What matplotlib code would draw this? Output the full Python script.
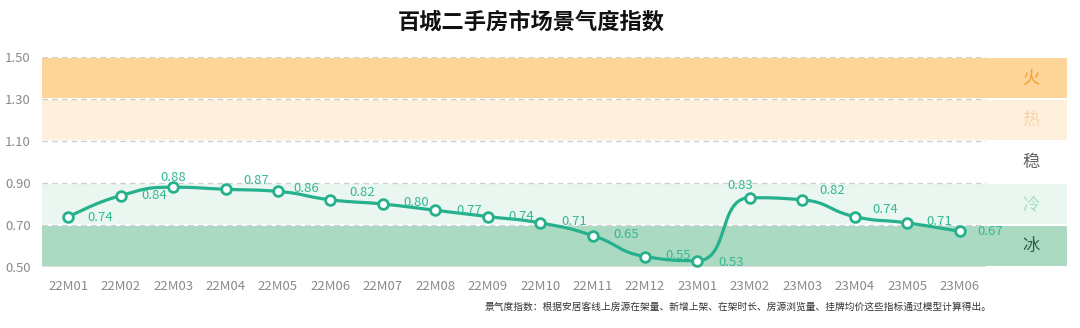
import numpy as np
import matplotlib
matplotlib.use("Agg")
import matplotlib.pyplot as plt

plt.rcParams['font.family'] = ['Noto Sans CJK SC', 'DejaVu Sans']

months = ["22M01", "22M02", "22M03", "22M04", "22M05", "22M06", "22M07", "22M08", "22M09",
          "22M10", "22M11", "22M12", "23M01", "23M02", "23M03", "23M04", "23M05", "23M06"]
index_values = [0.74, 0.84, 0.88, 0.87, 0.86, 0.82, 0.80, 0.77, 0.74,
                0.71, 0.65, 0.55, 0.53, 0.83, 0.82, 0.74, 0.71, 0.67]
y_ticks = [0.50, 0.70, 0.90, 1.10, 1.30, 1.50]
zone_names = ["冰", "冷", "稳", "热", "火"]
zone_bounds = [(0.50, 0.70), (0.70, 0.90), (0.90, 1.10), (1.10, 1.30), (1.30, 1.50)]
zone_fill = ["#abdac3", "#e9f7f0", "#ffffff", "#fef0dd", "#fdd598"]
zone_text = ["#2f5f4a", "#a6dfc3", "#666666", "#fcd3a2", "#f6a031"]

# label offsets (points) relative to each marker
label_offsets = [(14, -1), (15, 0), (0, 7), (13, 6), (11, 2), (14, 5), (15, 1), (15, 0), (15, 0),
                 (15, 1), (15, 1), (15, 1), (15, -1), (-7, 9), (12, 7), (13, 5), (14, 1), (13, 0)]
label_ha = ["left"] * len(months)
label_ha[2] = "center"
label_ha[13] = "center"

W, H, DPI = 10.8, 3.28, 100
fig = plt.figure(figsize=(W, H), dpi=DPI)
ax = fig.add_axes([42 / 1080, 1 - 267 / 328, (1067 - 42) / 1080, 210 / 328])

n = len(months)
x = np.arange(n)
xmin, xmax = -0.5, 19.05
ax.set_xlim(xmin, xmax)
ax.set_ylim(0.5, 1.5)

# background zones
gap = 0.006
for (lo, hi), fc in zip(zone_bounds, zone_fill):
    ax.fill_between([xmin, xmax], lo + gap, hi - gap, color=fc, lw=0, zorder=1)

# dashed grid over the category range, solid baseline
for yv in y_ticks[1:]:
    ax.hlines(yv, -0.5, n - 0.5, colors="#d0d0d0", linestyles=(0, (4, 3)), lw=1.0, zorder=2)
ax.hlines(0.5, -0.5, n - 0.5, colors="#d9d9d9", lw=1.2, zorder=2)

# smoothed curve: bezier control points in pixel space, clamped to avoid overshoot
sx, sy = 52.5, 210.0
px = x * sx
py = np.array(index_values) * sy
smooth = 0.5


def clamp(v, a, b):
    return min(max(v, min(a, b)), max(a, b))


cp_in = [None] * n
cp_out = [None] * n
for i in range(n):
    p = np.array([px[i], py[i]])
    if i == 0 or i == n - 1:
        o = i + 1 if i == 0 else i - 1
        q = np.array([px[o], py[o]])
        c = p + (q - p) * smooth * 0.5
        if i == 0:
            cp_out[i] = c
        else:
            cp_in[i] = c
        continue
    prv = np.array([px[i - 1], py[i - 1]])
    nxt = np.array([px[i + 1], py[i + 1]])
    v = nxt - prv
    l0 = np.hypot(*(p - prv))
    l1 = np.hypot(*(nxt - p))
    r = l1 / (l0 + l1)
    c0 = p - v * smooth * (1 - r)
    c1 = p + v * smooth * r
    c1 = np.array([clamp(c1[0], nxt[0], p[0]), clamp(c1[1], nxt[1], p[1])])
    c0 = p - (c1 - p) * l0 / l1
    c0 = np.array([clamp(c0[0], prv[0], p[0]), clamp(c0[1], prv[1], p[1])])
    c1 = p + (p - c0) * l1 / l0
    cp_in[i] = c0
    cp_out[i] = c1

curve_x, curve_y = [], []
t = np.linspace(0, 1, 50)[:, None]
for i in range(n - 1):
    p0 = np.array([px[i], py[i]])
    p3 = np.array([px[i + 1], py[i + 1]])
    b = (1 - t) ** 3 * p0 + 3 * (1 - t) ** 2 * t * cp_out[i] \
        + 3 * (1 - t) * t ** 2 * cp_in[i + 1] + t ** 3 * p3
    curve_x.extend(b[:, 0] / sx)
    curve_y.extend(b[:, 1] / sy)

line_color = "#26b08b"
ax.plot(curve_x, curve_y, color=line_color, lw=2.3, zorder=4, solid_capstyle="round")
ax.plot(x, index_values, linestyle="none", marker="o", ms=7, mfc="white", mec=line_color,
        mew=2, zorder=5)

for xi, v, (dx, dy), ha in zip(x, index_values, label_offsets, label_ha):
    ax.annotate(f"{v:.2f}", (xi, v), xytext=(dx, dy), textcoords="offset points",
                ha=ha, va="center", fontsize=9.5, color="#35b896", zorder=6)

# zone names on the right
for (lo, hi), name, tc in zip(zone_bounds, zone_names, zone_text):
    ax.text(18.36, (lo + hi) / 2, name, ha="center", va="center", fontsize=12.5, color=tc, zorder=6)

ax.set_xticks(x)
ax.set_xticklabels(months)
ax.set_yticks(y_ticks)
ax.set_yticklabels([f"{v:.2f}" for v in y_ticks])
ax.tick_params(axis="both", length=0, labelsize=9.5, labelcolor="#8a8a8a")
ax.tick_params(axis="x", pad=9)
ax.tick_params(axis="y", pad=8)
for s in ax.spines.values():
    s.set_visible(False)

fig.text(531 / 1080, 1 - 22 / 328, "百城二手房市场景气度指数", ha="center", va="center",
         fontsize=16, fontweight="bold", color="#111111")
fig.text(485 / 1080, 1 - 307 / 328,
         "景气度指数：根据安居客线上房源在架量、新增上架、在架时长、房源浏览量、挂牌均价这些指标通过模型计算得出。",
         ha="left", va="center", fontsize=7, color="#333333")

fig.savefig("out.png", dpi=DPI)
